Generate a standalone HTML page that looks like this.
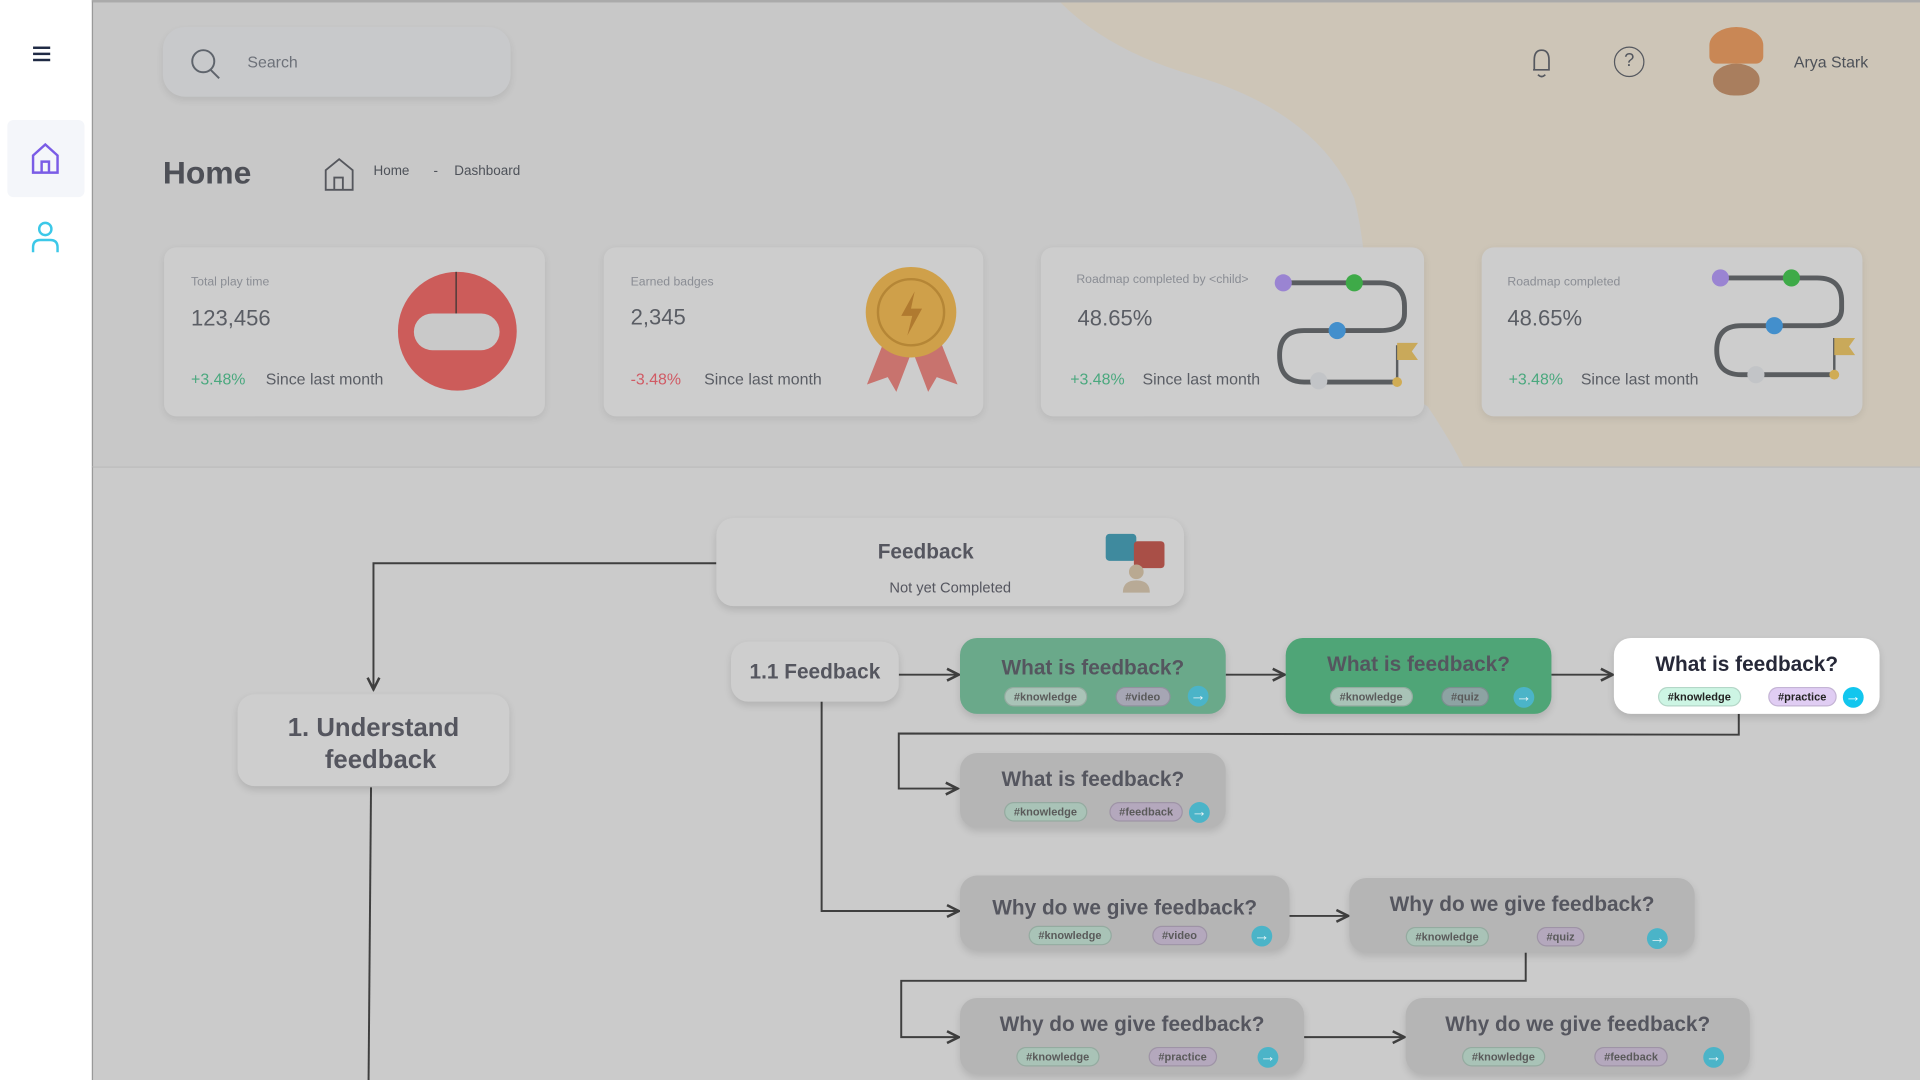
<!DOCTYPE html>
<html><head><meta charset="utf-8"><style>
*{margin:0;padding:0;box-sizing:border-box}
html,body{width:1920px;height:1080px;overflow:hidden;background:#fff;font-family:"Liberation Sans",sans-serif}
#w{position:absolute;left:0;top:0;width:1568px;height:882px;transform:scale(1.22449);transform-origin:0 0}
.a{position:absolute}
.card{position:absolute;background:#cdcdcd;border-radius:10px;box-shadow:0 2px 6px rgba(0,0,0,.08)}
.lbl{font-size:10px;color:#8a8d94}
.val{font-size:18px;color:#5a5d64}
.node{position:absolute;border-radius:14px;box-shadow:0 3px 6px rgba(0,0,0,.12);text-align:center;color:#55565f;font-weight:bold}
.t{font-size:17px;margin-top:15px}
.tag{position:absolute;font-size:9px;font-weight:bold;border-radius:9px;padding:2px 7px;border:1px solid rgba(0,0,0,.12);color:#5a5a5a}
.k{background:#a9c3b7}.v{background:#a6a6b4}.p{background:#b4a8bd}
.arr{position:absolute;width:17px;height:17px;border-radius:50%;background:#4bb4c8;color:#e8f4f6;font-size:13px;line-height:16px;text-align:center;font-weight:bold}
</style></head><body><div id="w">
<div class="a" style="left:0;top:0;width:75px;height:882px;background:#fff"></div>
<div class="a" style="left:27px;top:38px;width:14px;height:2px;background:#1f2a44;box-shadow:0 5px 0 #1f2a44,0 10px 0 #1f2a44"></div>
<div class="a" style="left:6px;top:98px;width:63px;height:63px;background:#f4f6fa;border-radius:5px"></div>
<svg class="a" style="left:25px;top:116px" width="26" height="28"><path d="M2 11 L12 2 L22 11 V25 H2 Z M9 25 V16 H15 V25" fill="none" stroke="#7a5ce6" stroke-width="2"/></svg>
<svg class="a" style="left:25px;top:180px" width="24" height="28"><circle cx="12" cy="7" r="5" fill="none" stroke="#3cc8e8" stroke-width="2"/><path d="M2 26 V22 Q2 16 8 16 H16 Q22 16 22 22 V26" fill="none" stroke="#3cc8e8" stroke-width="2"/></svg>
<div class="a" style="left:75px;top:0;width:1493px;height:381px;background:#c8c8c8;border-top:2px solid #aaa;border-left:1px solid #999;overflow:hidden">
<svg class="a" style="left:0;top:0" width="1493" height="381"><path d="M790 0 Q830 40 900 60 Q1000 90 1030 160 Q1040 200 1040 250 Q1040 300 1090 330 Q1110 360 1120 381 H1493 V0 Z" fill="#cdc5b7"/></svg>
</div>
<div class="a" style="left:75px;top:381px;width:1493px;height:501px;background:#cbcbcb;border-top:1px solid #bdbdbd;border-left:1px solid #999"></div>
<div class="a" style="left:133px;top:22px;width:284px;height:57px;background:#c8c9cb;border-radius:18px;box-shadow:0 3px 6px rgba(0,0,0,.08)"></div>
<svg class="a" style="left:154px;top:39px" width="28" height="28"><circle cx="12" cy="11" r="9" fill="none" stroke="#5f646c" stroke-width="1.6"/><path d="M18 18 L25 25" stroke="#5f646c" stroke-width="1.6"/></svg>
<div class="a" style="left:202px;top:43px;font-size:13px;color:#6d7179">Search</div>
<svg class="a" style="left:1247px;top:37px" width="26" height="30"><path d="M6 20 V12 Q6 4 12 4 Q18 4 18 12 V20 H5 M9 24 Q12 27 15 24" fill="none" stroke="#55585f" stroke-width="1.4"/></svg>
<div class="a" style="left:1318px;top:38px;width:25px;height:25px;border:1.5px solid #55585f;border-radius:50%;text-align:center;font-size:15px;line-height:22px;color:#55585f">?</div>
<div class="a" style="left:1399px;top:52px;width:38px;height:26px;background:#a97e5e;border-radius:50% 50% 45% 45%"></div>
<div class="a" style="left:1396px;top:22px;width:44px;height:30px;background:#c98755;border-radius:50% 50% 6px 6px"></div>
<div class="a" style="left:1465px;top:43px;font-size:13px;color:#4e5259">Arya Stark</div>
<div class="a" style="left:133px;top:126px;font-size:26px;font-weight:bold;color:#4e5057">Home</div>
<svg class="a" style="left:264px;top:128px" width="28" height="28"><path d="M2 11 L13 2 L24 11 V27 H2 Z M9 27 V17 H16 V27" fill="none" stroke="#55575d" stroke-width="1.5"/></svg>
<div class="a" style="left:305px;top:134px;font-size:11px;color:#4e5259">Home</div>
<div class="a" style="left:354px;top:134px;font-size:11px;color:#4e5259">-</div>
<div class="a" style="left:371px;top:134px;font-size:11px;color:#4e5259">Dashboard</div>

<div class="card" style="left:134px;top:202px;width:311px;height:138px"></div>
<div class="a lbl" style="left:156px;top:225px">Total play time</div>
<div class="a val" style="left:156px;top:250px">123,456</div>
<div class="a" style="left:156px;top:302px;font-size:13px;color:#4aa87e">+3.48%</div>
<div class="a" style="left:217px;top:302px;font-size:13px;color:#5a5d64">Since last month</div>
<div class="a" style="left:325px;top:222px;width:97px;height:97px;border-radius:50%;background:#cc5c5a"></div>
<div class="a" style="left:338px;top:256px;width:70px;height:30px;background:#c9c9c9;border-radius:15px"></div>
<div class="a" style="left:372px;top:222px;width:1px;height:34px;background:#333"></div>

<div class="card" style="left:493px;top:202px;width:310px;height:138px"></div>
<div class="a lbl" style="left:515px;top:225px">Earned badges</div>
<div class="a val" style="left:515px;top:249px">2,345</div>
<div class="a" style="left:515px;top:302px;font-size:13px;color:#d05a64">-3.48%</div>
<div class="a" style="left:575px;top:302px;font-size:13px;color:#5a5d64">Since last month</div>
<svg class="a" style="left:700px;top:216px" width="90" height="108"><path d="M25 55 L8 98 L25 92 L32 104 L45 70 L58 104 L65 92 L82 98 L65 55 Z" fill="#c8736e"/><circle cx="44" cy="39" r="37" fill="#cfa04a"/><circle cx="44" cy="39" r="27" fill="none" stroke="#b58636" stroke-width="2"/><path d="M47 22 L36 42 H45 L41 58 L53 36 H44 Z" fill="#b07a30"/></svg>

<div class="card" style="left:850px;top:202px;width:313px;height:138px"></div>
<div class="a lbl" style="left:879px;top:223px">Roadmap completed by &lt;child&gt;</div>
<div class="a val" style="left:880px;top:250px">48.65%</div>
<div class="a" style="left:874px;top:302px;font-size:13px;color:#4aa87e">+3.48%</div>
<div class="a" style="left:933px;top:302px;font-size:13px;color:#5a5d64">Since last month</div>
<svg class="a" style="left:1035px;top:220px" width="130" height="100"><path d="M13 11 H92 Q112 11 112 30 V36 Q112 50 92 50 H30 Q10 50 10 70 Q10 92 30 92 H106" fill="none" stroke="#5a5d60" stroke-width="4"/><path d="M106 92 V62" stroke="#5a5d60" stroke-width="2"/><path d="M106 60 H123 L118 67 L123 74 H106Z" fill="#c9a95a"/><circle cx="13" cy="11" r="7" fill="#9a84d2"/><circle cx="71" cy="11" r="7" fill="#3eaa48"/><circle cx="57" cy="50" r="7" fill="#438fcc"/><circle cx="42" cy="91" r="7" fill="#c2c4c7"/><circle cx="106" cy="92" r="4" fill="#d0ac54"/></svg>

<div class="card" style="left:1210px;top:202px;width:311px;height:138px"></div>
<div class="a lbl" style="left:1231px;top:225px">Roadmap completed</div>
<div class="a val" style="left:1231px;top:250px">48.65%</div>
<div class="a" style="left:1232px;top:302px;font-size:13px;color:#4aa87e">+3.48%</div>
<div class="a" style="left:1291px;top:302px;font-size:13px;color:#5a5d64">Since last month</div>
<svg class="a" style="left:1392px;top:216px" width="130" height="100"><path d="M13 11 H92 Q112 11 112 30 V36 Q112 50 92 50 H30 Q10 50 10 70 Q10 90 30 90 H106" fill="none" stroke="#5a5d60" stroke-width="4"/><path d="M106 90 V60" stroke="#5a5d60" stroke-width="2"/><path d="M106 60 H123 L118 67 L123 74 H106Z" fill="#c9a95a"/><circle cx="13" cy="11" r="7" fill="#9a84d2"/><circle cx="71" cy="11" r="7" fill="#3eaa48"/><circle cx="57" cy="50" r="7" fill="#438fcc"/><circle cx="42" cy="90" r="7" fill="#c2c4c7"/><circle cx="106" cy="90" r="4" fill="#d0ac54"/></svg>

<svg class="a" style="left:0;top:0" width="1568" height="882">
<defs><marker id="m" markerWidth="8" markerHeight="8" refX="7" refY="4" orient="auto"><path d="M1 1 L7 4 L1 7" fill="none" stroke="#3f3f3f" stroke-width="1.3"/></marker></defs>
<g fill="none" stroke="#3f3f3f" stroke-width="1.6">
<path d="M585 460 H305 V563" marker-end="url(#m)"/>
<path d="M303 643 L301 882"/>
<path d="M734 551 H783" marker-end="url(#m)"/>
<path d="M1001 551 H1049" marker-end="url(#m)"/>
<path d="M1267 551 H1317" marker-end="url(#m)"/>
<path d="M1420 583 V600 L734 599 V644 H782" marker-end="url(#m)"/>
<path d="M671 573 V744 H783" marker-end="url(#m)"/>
<path d="M1053 748 H1101" marker-end="url(#m)"/>
<path d="M1246 778 V801 H736 V847 H783" marker-end="url(#m)"/>
<path d="M1065 847 H1147" marker-end="url(#m)"/>
</g></svg>

<div class="node" style="left:585px;top:423px;width:382px;height:72px;background:#cecece">
<div style="font-size:17px;margin-top:18px;margin-left:-40px">Feedback</div>
<div style="font-size:12px;font-weight:normal;margin-top:12px">Not yet Completed</div></div>
<svg class="a" style="left:902px;top:434px" width="52" height="52"><rect x="1" y="2" width="25" height="22" rx="3" fill="#3f8a9e"/><rect x="24" y="8" width="25" height="22" rx="3" fill="#a94f47"/><circle cx="26" cy="33" r="6" fill="#b9a991"/><path d="M15 50 Q15 40 26 40 Q37 40 37 50Z" fill="#b8aa96"/></svg>
<div class="node" style="left:194px;top:567px;width:222px;height:75px;background:#cecece;font-size:21px;line-height:26px;padding-top:15px">1. Understand<br>&nbsp;&nbsp;feedback</div>
<div class="node" style="left:597px;top:524px;width:137px;height:49px;background:#cecece;font-size:17px;line-height:49px">1.1 Feedback</div>

<div class="node" style="left:784px;top:521px;width:217px;height:62px;background:#6aa98a"><div class="t">What is feedback?</div>
<span class="tag k" style="left:36px;top:40px">#knowledge</span><span class="tag v" style="left:127px;top:40px">#video</span><span class="arr" style="left:186px;top:39px">→</span></div>
<div class="node" style="left:1050px;top:521px;width:217px;height:62px;background:#4fa577"><div class="t" style="margin-top:12px">What is feedback?</div>
<span class="tag k" style="left:36px;top:40px">#knowledge</span><span class="tag v" style="left:127px;top:40px;background:#8da3a3">#quiz</span><span class="arr" style="left:186px;top:40px">→</span></div>
<div class="node" style="left:1318px;top:521px;width:217px;height:62px;background:#fff;color:#262838"><div class="t" style="margin-top:12px">What is feedback?</div>
<span class="tag" style="left:36px;top:40px;background:#cdf5e4;color:#222">#knowledge</span><span class="tag" style="left:126px;top:40px;background:#e0cdf3;color:#222">#practice</span><span class="arr" style="left:187px;top:40px;background:#12c6ee;color:#fff">→</span></div>
<div class="node" style="left:784px;top:615px;width:217px;height:61px;background:#b5b5b5"><div class="t" style="margin-top:12px">What is feedback?</div>
<span class="tag k" style="left:36px;top:40px">#knowledge</span><span class="tag p" style="left:122px;top:40px">#feedback</span><span class="arr" style="left:187px;top:40px">→</span></div>
<div class="node" style="left:784px;top:715px;width:269px;height:61px;background:#b5b5b5"><div class="t" style="margin-top:17px">Why do we give feedback?</div>
<span class="tag k" style="left:56px;top:41px">#knowledge</span><span class="tag p" style="left:157px;top:41px">#video</span><span class="arr" style="left:238px;top:41px">→</span></div>
<div class="node" style="left:1102px;top:717px;width:282px;height:61px;background:#b5b5b5"><div class="t" style="margin-top:12px">Why do we give feedback?</div>
<span class="tag k" style="left:46px;top:40px">#knowledge</span><span class="tag p" style="left:153px;top:40px">#quiz</span><span class="arr" style="left:243px;top:41px">→</span></div>
<div class="node" style="left:784px;top:815px;width:281px;height:62px;background:#b5b5b5"><div class="t" style="margin-top:12px">Why do we give feedback?</div>
<span class="tag k" style="left:46px;top:40px">#knowledge</span><span class="tag p" style="left:154px;top:40px">#practice</span><span class="arr" style="left:243px;top:40px">→</span></div>
<div class="node" style="left:1148px;top:815px;width:281px;height:62px;background:#b5b5b5"><div class="t" style="margin-top:12px">Why do we give feedback?</div>
<span class="tag k" style="left:46px;top:40px">#knowledge</span><span class="tag p" style="left:154px;top:40px">#feedback</span><span class="arr" style="left:243px;top:40px">→</span></div>
</div></body></html>
